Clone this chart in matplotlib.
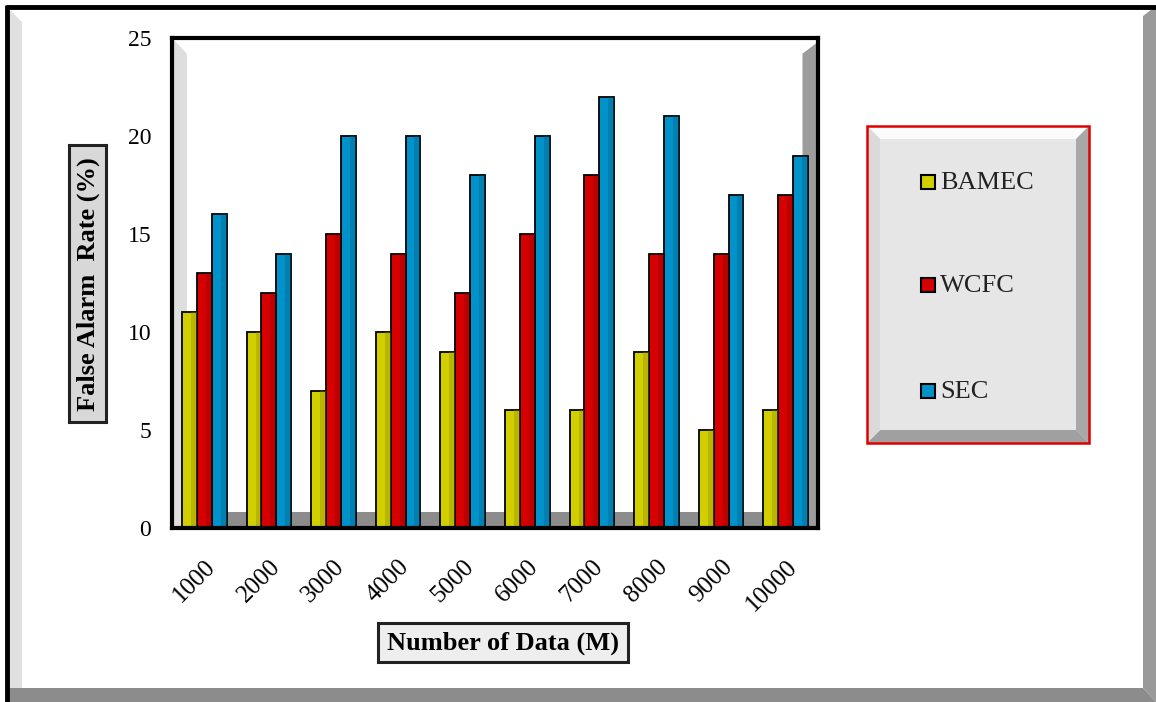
import matplotlib.pyplot as plt
import numpy as np
from matplotlib.patches import Rectangle, Polygon

categories = ['1000', '2000', '3000', '4000', '5000', '6000', '7000', '8000', '9000', '10000']
bamec = [11, 10, 7, 10, 9, 6, 6, 9, 5, 6]
wcfc = [13, 12, 15, 14, 12, 15, 18, 14, 14, 17]
sec = [16, 14, 20, 20, 18, 20, 22, 21, 17, 19]
series_names = ['BAMEC', 'WCFC', 'SEC']

colors = ['#d2cf00', '#d60000', '#0092c8']
dark = ['#8a8800', '#8a0000', '#005f85']

plt.rcParams['font.family'] = ['Liberation Serif', 'DejaVu Serif']

W, H = 1156, 702
fig = plt.figure(figsize=(W / 100, H / 100), dpi=100)

# background layer in pixel coords for the frame / boxes
bg = fig.add_axes([0, 0, 1, 1])
bg.set_xlim(0, W)
bg.set_ylim(H, 0)
bg.axis('off')

# outer frame with bevel
bg.add_patch(Polygon([[1143, 16], [1156, 6], [1156, 702], [1143, 688]], closed=True, fc='#9a9a9a', ec='none'))
bg.add_patch(Polygon([[8, 688], [1143, 688], [1156, 702], [8, 702]], closed=True, fc='#8c8c8c', ec='none'))
bg.add_patch(Polygon([[10, 10], [22, 22], [22, 688], [10, 688]], closed=True, fc='#e0e0e0', ec='none'))
bg.plot([6, 1156], [7, 7], color='black', lw=3.5, solid_capstyle='butt')
bg.plot([7, 7], [5, 702], color='black', lw=3.5, solid_capstyle='butt')

# legend box with bevel
lx0, ly0, lx1, ly1 = 867, 126, 1089, 443
b = 13
bg.add_patch(Rectangle((lx0, ly0), lx1 - lx0, ly1 - ly0, fc='#e6e6e6', ec='none'))
bg.add_patch(Polygon([[lx0, ly0], [lx1, ly0], [lx1 - b, ly0 + b], [lx0 + b, ly0 + b]], fc='#fbfbfb', ec='none'))
bg.add_patch(Polygon([[lx1, ly0], [lx1, ly1], [lx1 - b, ly1 - b], [lx1 - b, ly0 + b]], fc='#a8a8a8', ec='none'))
bg.add_patch(Polygon([[lx0, ly1], [lx1, ly1], [lx1 - b, ly1 - b], [lx0 + b, ly1 - b]], fc='#a0a0a0', ec='none'))
bg.add_patch(Polygon([[lx0, ly0], [lx0 + b, ly0 + b], [lx0 + b, ly1 - b], [lx0, ly1]], fc='#dadada', ec='none'))
bg.add_patch(Rectangle((lx0, ly0), lx1 - lx0, ly1 - ly0, fc='none', ec='#e00000', lw=1.8))
for i, name in enumerate(series_names):
    yy = [182, 285, 391][i]
    bg.add_patch(Rectangle((921, yy - 7), 14, 14, fc=colors[i], ec='black', lw=1.5))
    bg.text(940, yy + 1, name, fontsize=19, va='center', ha='left', color='#222222')

# y label box
bg.add_patch(Rectangle((69, 145), 37, 277, fc='#d8d8d8', ec='#222222', lw=2.2))
bg.text(88, 284, 'False Alarm  Rate (%)', rotation=90, fontsize=19, fontweight='bold',
        ha='center', va='center')

# x label box
bg.add_patch(Rectangle((378, 623), 250, 39, fc='#eeeeee', ec='#222222', lw=2.2))
bg.text(503, 643, 'Number of Data (M)', fontsize=19, fontweight='bold', ha='center', va='center')

# main chart
ax = fig.add_axes([172 / W, (H - 528) / H, (818 - 172) / W, (528 - 38) / H])
ax.set_xlim(-0.5, 9.5)
ax.set_ylim(0, 25)
ax.set_facecolor('white')

# 3D-ish walls and floor
ax.add_patch(Rectangle((-0.5, 0), 10, 0.8, fc='#8c8c8c', ec='none', zorder=0))
ax.add_patch(Polygon([[9.26, 0], [9.26, 24.2], [9.5, 24.8], [9.5, 0]], fc='#9c9c9c', ec='none', zorder=0))
ax.add_patch(Polygon([[-0.5, 0], [-0.5, 25], [-0.27, 24.2], [-0.27, 0]], fc='#dedede', ec='none', zorder=0))

x = np.arange(len(categories))
w = 0.23
for i, vals in enumerate([bamec, wcfc, sec]):
    pos = x + (i - 1) * w
    ax.bar(pos, vals, width=w, color=colors[i], edgecolor='black', linewidth=1.3, zorder=2)
    ax.bar(pos + w * 0.1, vals, width=w * 0.4, align='edge', color=dark[i], alpha=0.35,
           linewidth=0, zorder=3)

ax.set_xticks(x)
ax.set_xticklabels(categories, rotation=45, ha='right', rotation_mode='anchor', fontsize=18)
ax.set_yticks([0, 5, 10, 15, 20, 25])
ax.tick_params(axis='y', length=0, labelsize=17, pad=15)
ax.tick_params(axis='x', length=0, labelsize=18, pad=20)
for s in ax.spines.values():
    s.set_linewidth(3)
    s.set_color('black')
    s.set_zorder(5)

fig.savefig('out.png', dpi=100)
